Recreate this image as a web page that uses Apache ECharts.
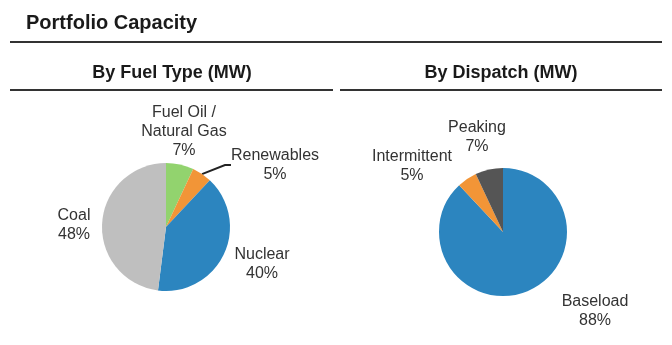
<!DOCTYPE html>
<html>
<head>
<meta charset="utf-8">
<script src="https://cdn.jsdelivr.net/npm/echarts@6/dist/echarts.min.js"></script>
<style>
  html, body { margin: 0; padding: 0; background: #fff; }
  #chart { width: 672px; height: 345px; }
</style>
</head>
<body>
<div id="chart"></div>
<script>
// Capacity shares (percent of MW)
const fuelCategories = ['Fuel Oil /\nNatural Gas', 'Renewables', 'Nuclear', 'Coal'];
const fuelShares = [7, 5, 40, 48];
const dispatchCategories = ['Baseload', 'Intermittent', 'Peaking'];
const dispatchShares = [88, 5, 7];

// Slice colours
const fuelColors = ['#92d36e', '#f29537', '#2c85bf', '#bfbfbf'];
const dispatchColors = ['#2c85bf', '#f29537', '#555555'];

// Label anchor points (centre of each label block), same order as the categories
const fuelLabelPos = [[184, 132], [275, 165], [262, 264], [74, 225]];
const dispatchLabelPos = [[595, 311], [412, 166], [477, 137]];

const FONT = '"Liberation Sans", Arial, sans-serif';

function buildData(names, values, colors, lineIdx) {
  return names.map((n, i) => {
    const item = { name: n, value: values[i], itemStyle: { color: colors[i] } };
    if (i === lineIdx) item.labelLine = { show: true };
    return item;
  });
}

function pieSeries(center, names, values, colors, labelPos, lineIdx) {
  return {
    type: 'pie',
    center: center,
    radius: 64,
    startAngle: 90,
    clockwise: true,
    avoidLabelOverlap: false,
    silent: true,
    itemStyle: { borderWidth: 0 },
    label: {
      show: true,
      position: 'outside',
      formatter: p => p.name + '\n' + p.value + '%',
      fontFamily: FONT,
      fontSize: 16,
      lineHeight: 19,
      color: '#333333',
      align: 'center'
    },
    labelLine: {
      show: false,
      length: 12,
      length2: 6,
      lineStyle: { color: '#222222', width: 2 }
    },
    labelLayout: p => ({
      x: labelPos[p.dataIndex][0],
      y: labelPos[p.dataIndex][1],
      align: 'center',
      verticalAlign: 'middle'
    }),
    data: buildData(names, values, colors, lineIdx)
  };
}

const chart = echarts.init(document.getElementById('chart'), null, { renderer: 'canvas' });
chart.setOption({
  animation: false,
  backgroundColor: '#ffffff',
  graphic: [
    { type: 'text', left: 26, top: 13,
      style: { text: 'Portfolio Capacity', font: 'bold 20px ' + FONT, fill: '#1a1a1a' } },
    { type: 'line', shape: { x1: 10, y1: 42, x2: 662, y2: 42 },
      style: { stroke: '#333333', lineWidth: 2 } },
    { type: 'text', x: 172, y: 73,
      style: { text: 'By Fuel Type (MW)', font: 'bold 18px ' + FONT, fill: '#1a1a1a',
               align: 'center', verticalAlign: 'middle' } },
    { type: 'text', x: 501, y: 73,
      style: { text: 'By Dispatch (MW)', font: 'bold 18px ' + FONT, fill: '#1a1a1a',
               align: 'center', verticalAlign: 'middle' } },
    { type: 'line', shape: { x1: 10, y1: 90, x2: 333, y2: 90 },
      style: { stroke: '#333333', lineWidth: 2 } },
    { type: 'line', shape: { x1: 340, y1: 90, x2: 662, y2: 90 },
      style: { stroke: '#333333', lineWidth: 2 } }
  ],
  series: [
    pieSeries([166, 227], fuelCategories, fuelShares, fuelColors, fuelLabelPos, 1),
    pieSeries([503, 232], dispatchCategories, dispatchShares, dispatchColors, dispatchLabelPos, -1)
  ]
});
</script>
</body>
</html>
